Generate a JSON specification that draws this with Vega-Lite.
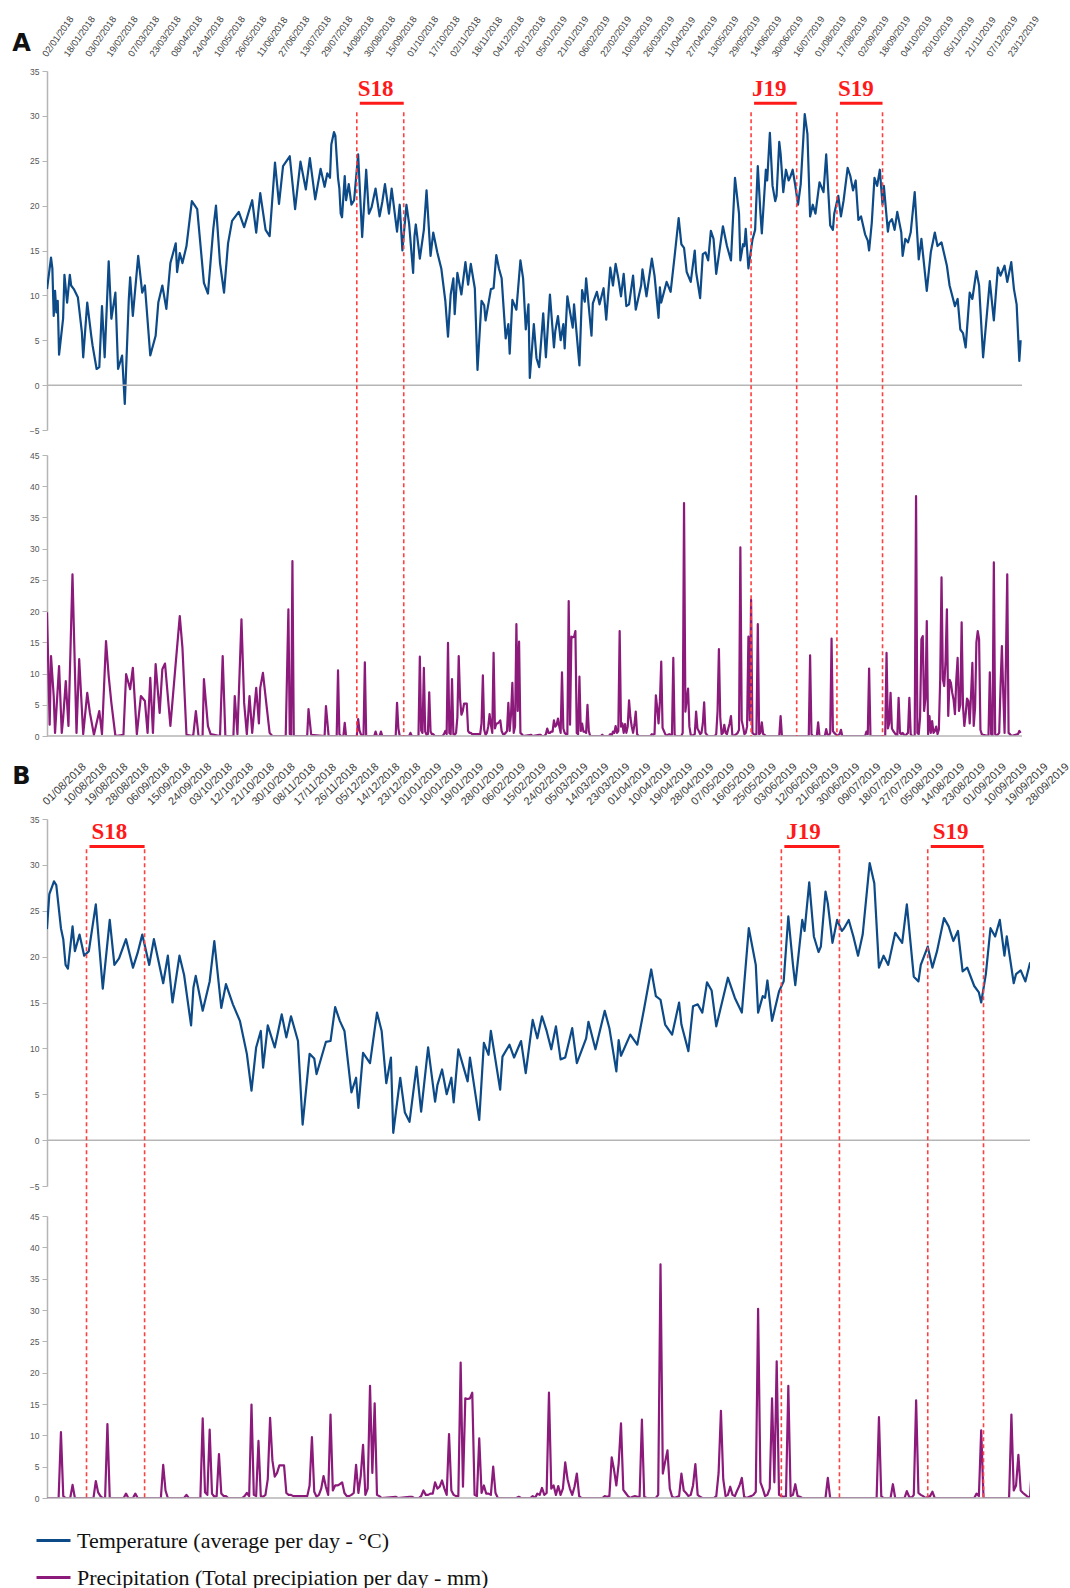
{
  "$schema": "https://vega.github.io/schema/vega-lite/v6.json",
  "background": "white",
  "padding": {"left": 12, "top": 14, "right": 0, "bottom": 0},
  "spacing": 19,
  "config": {
    "view": {"stroke": null},
    "font": "Liberation Sans",
    "axis": {"labelFont": "Liberation Sans"}
  },
  "datasets": {
    "ticks": [
      {"panel":"A","date":"2018-01-02","lab":"02/01/2018"},{"panel":"A","date":"2018-01-18","lab":"18/01/2018"},{"panel":"A","date":"2018-02-03","lab":"03/02/2018"},{"panel":"A","date":"2018-02-19","lab":"19/02/2018"},{"panel":"A","date":"2018-03-07","lab":"07/03/2018"},{"panel":"A","date":"2018-03-23","lab":"23/03/2018"},{"panel":"A","date":"2018-04-08","lab":"08/04/2018"},{"panel":"A","date":"2018-04-24","lab":"24/04/2018"},{"panel":"A","date":"2018-05-10","lab":"10/05/2018"},{"panel":"A","date":"2018-05-26","lab":"26/05/2018"},{"panel":"A","date":"2018-06-11","lab":"11/06/2018"},{"panel":"A","date":"2018-06-27","lab":"27/06/2018"},{"panel":"A","date":"2018-07-13","lab":"13/07/2018"},{"panel":"A","date":"2018-07-29","lab":"29/07/2018"},{"panel":"A","date":"2018-08-14","lab":"14/08/2018"},{"panel":"A","date":"2018-08-30","lab":"30/08/2018"},{"panel":"A","date":"2018-09-15","lab":"15/09/2018"},{"panel":"A","date":"2018-10-01","lab":"01/10/2018"},{"panel":"A","date":"2018-10-17","lab":"17/10/2018"},{"panel":"A","date":"2018-11-02","lab":"02/11/2018"},{"panel":"A","date":"2018-11-18","lab":"18/11/2018"},{"panel":"A","date":"2018-12-04","lab":"04/12/2018"},{"panel":"A","date":"2018-12-20","lab":"20/12/2018"},{"panel":"A","date":"2019-01-05","lab":"05/01/2019"},{"panel":"A","date":"2019-01-21","lab":"21/01/2019"},{"panel":"A","date":"2019-02-06","lab":"06/02/2019"},{"panel":"A","date":"2019-02-22","lab":"22/02/2019"},{"panel":"A","date":"2019-03-10","lab":"10/03/2019"},{"panel":"A","date":"2019-03-26","lab":"26/03/2019"},{"panel":"A","date":"2019-04-11","lab":"11/04/2019"},{"panel":"A","date":"2019-04-27","lab":"27/04/2019"},{"panel":"A","date":"2019-05-13","lab":"13/05/2019"},{"panel":"A","date":"2019-05-29","lab":"29/05/2019"},{"panel":"A","date":"2019-06-14","lab":"14/06/2019"},{"panel":"A","date":"2019-06-30","lab":"30/06/2019"},{"panel":"A","date":"2019-07-16","lab":"16/07/2019"},{"panel":"A","date":"2019-08-01","lab":"01/08/2019"},{"panel":"A","date":"2019-08-17","lab":"17/08/2019"},{"panel":"A","date":"2019-09-02","lab":"02/09/2019"},{"panel":"A","date":"2019-09-18","lab":"18/09/2019"},{"panel":"A","date":"2019-10-04","lab":"04/10/2019"},{"panel":"A","date":"2019-10-20","lab":"20/10/2019"},{"panel":"A","date":"2019-11-05","lab":"05/11/2019"},{"panel":"A","date":"2019-11-21","lab":"21/11/2019"},{"panel":"A","date":"2019-12-07","lab":"07/12/2019"},{"panel":"A","date":"2019-12-23","lab":"23/12/2019"},
      {"panel":"B","date":"2018-08-01","lab":"01/08/2018"},{"panel":"B","date":"2018-08-10","lab":"10/08/2018"},{"panel":"B","date":"2018-08-19","lab":"19/08/2018"},{"panel":"B","date":"2018-08-28","lab":"28/08/2018"},{"panel":"B","date":"2018-09-06","lab":"06/09/2018"},{"panel":"B","date":"2018-09-15","lab":"15/09/2018"},{"panel":"B","date":"2018-09-24","lab":"24/09/2018"},{"panel":"B","date":"2018-10-03","lab":"03/10/2018"},{"panel":"B","date":"2018-10-12","lab":"12/10/2018"},{"panel":"B","date":"2018-10-21","lab":"21/10/2018"},{"panel":"B","date":"2018-10-30","lab":"30/10/2018"},{"panel":"B","date":"2018-11-08","lab":"08/11/2018"},{"panel":"B","date":"2018-11-17","lab":"17/11/2018"},{"panel":"B","date":"2018-11-26","lab":"26/11/2018"},{"panel":"B","date":"2018-12-05","lab":"05/12/2018"},{"panel":"B","date":"2018-12-14","lab":"14/12/2018"},{"panel":"B","date":"2018-12-23","lab":"23/12/2018"},{"panel":"B","date":"2019-01-01","lab":"01/01/2019"},{"panel":"B","date":"2019-01-10","lab":"10/01/2019"},{"panel":"B","date":"2019-01-19","lab":"19/01/2019"},{"panel":"B","date":"2019-01-28","lab":"28/01/2019"},{"panel":"B","date":"2019-02-06","lab":"06/02/2019"},{"panel":"B","date":"2019-02-15","lab":"15/02/2019"},{"panel":"B","date":"2019-02-24","lab":"24/02/2019"},{"panel":"B","date":"2019-03-05","lab":"05/03/2019"},{"panel":"B","date":"2019-03-14","lab":"14/03/2019"},{"panel":"B","date":"2019-03-23","lab":"23/03/2019"},{"panel":"B","date":"2019-04-01","lab":"01/04/2019"},{"panel":"B","date":"2019-04-10","lab":"10/04/2019"},{"panel":"B","date":"2019-04-19","lab":"19/04/2019"},{"panel":"B","date":"2019-04-28","lab":"28/04/2019"},{"panel":"B","date":"2019-05-07","lab":"07/05/2019"},{"panel":"B","date":"2019-05-16","lab":"16/05/2019"},{"panel":"B","date":"2019-05-25","lab":"25/05/2019"},{"panel":"B","date":"2019-06-03","lab":"03/06/2019"},{"panel":"B","date":"2019-06-12","lab":"12/06/2019"},{"panel":"B","date":"2019-06-21","lab":"21/06/2019"},{"panel":"B","date":"2019-06-30","lab":"30/06/2019"},{"panel":"B","date":"2019-07-09","lab":"09/07/2019"},{"panel":"B","date":"2019-07-18","lab":"18/07/2019"},{"panel":"B","date":"2019-07-27","lab":"27/07/2019"},{"panel":"B","date":"2019-08-05","lab":"05/08/2019"},{"panel":"B","date":"2019-08-14","lab":"14/08/2019"},{"panel":"B","date":"2019-08-23","lab":"23/08/2019"},{"panel":"B","date":"2019-09-01","lab":"01/09/2019"},{"panel":"B","date":"2019-09-10","lab":"10/09/2019"},{"panel":"B","date":"2019-09-19","lab":"19/09/2019"},{"panel":"B","date":"2019-09-28","lab":"28/09/2019"}
    ],
    "temp": [
      {"date":"2018-01-02","t":10.7},{"date":"2018-01-05","t":14.2},{"date":"2018-01-06","t":13.0},{"date":"2018-01-07","t":7.7},{"date":"2018-01-08","t":10.5},{"date":"2018-01-09","t":8.1},{"date":"2018-01-10","t":9.4},{"date":"2018-01-11","t":3.4},{"date":"2018-01-14","t":7.4},{"date":"2018-01-15","t":12.3},{"date":"2018-01-17","t":9.2},{"date":"2018-01-19","t":12.3},{"date":"2018-01-20","t":11.1},{"date":"2018-01-22","t":10.7},{"date":"2018-01-25","t":9.8},{"date":"2018-01-28","t":5.9},{"date":"2018-01-29","t":3.1},{"date":"2018-02-01","t":9.2},{"date":"2018-02-04","t":5.5},{"date":"2018-02-05","t":4.4},{"date":"2018-02-08","t":1.8},{"date":"2018-02-10","t":2.0},{"date":"2018-02-12","t":8.8},{"date":"2018-02-14","t":3.1},{"date":"2018-02-17","t":13.8},{"date":"2018-02-19","t":7.4},{"date":"2018-02-22","t":10.3},{"date":"2018-02-24","t":1.8},{"date":"2018-02-27","t":3.3},{"date":"2018-03-01","t":-2.1},{"date":"2018-03-04","t":9.6},{"date":"2018-03-05","t":12.0},{"date":"2018-03-07","t":7.7},{"date":"2018-03-11","t":14.4},{"date":"2018-03-14","t":10.3},{"date":"2018-03-16","t":11.1},{"date":"2018-03-20","t":3.3},{"date":"2018-03-24","t":5.5},{"date":"2018-03-26","t":9.2},{"date":"2018-03-29","t":11.1},{"date":"2018-04-01","t":8.5},{"date":"2018-04-04","t":13.6},{"date":"2018-04-08","t":15.8},{"date":"2018-04-09","t":12.6},{"date":"2018-04-11","t":14.7},{"date":"2018-04-13","t":13.6},{"date":"2018-04-16","t":15.5},{"date":"2018-04-20","t":20.5},{"date":"2018-04-24","t":19.6},{"date":"2018-04-29","t":11.4},{"date":"2018-05-02","t":10.2},{"date":"2018-05-06","t":17.4},{"date":"2018-05-08","t":20.0},{"date":"2018-05-11","t":13.6},{"date":"2018-05-14","t":10.3},{"date":"2018-05-17","t":15.8},{"date":"2018-05-20","t":18.3},{"date":"2018-05-25","t":19.3},{"date":"2018-05-29","t":17.6},{"date":"2018-06-04","t":20.6},{"date":"2018-06-07","t":17.0},{"date":"2018-06-10","t":21.4},{"date":"2018-06-14","t":17.3},{"date":"2018-06-17","t":16.6},{"date":"2018-06-21","t":24.8},{"date":"2018-06-24","t":20.2},{"date":"2018-06-27","t":24.4},{"date":"2018-07-02","t":25.5},{"date":"2018-07-06","t":19.6},{"date":"2018-07-10","t":24.9},{"date":"2018-07-14","t":21.8},{"date":"2018-07-17","t":25.3},{"date":"2018-07-21","t":20.7},{"date":"2018-07-25","t":24.1},{"date":"2018-07-28","t":22.1},{"date":"2018-07-30","t":23.6},
      {"date":"2018-08-01","t":23.1},{"date":"2018-08-02","t":26.8},{"date":"2018-08-03","t":27.5},{"date":"2018-08-04","t":28.2},{"date":"2018-08-05","t":27.8},{"date":"2018-08-07","t":23.1},{"date":"2018-08-08","t":21.9},{"date":"2018-08-09","t":19.1},{"date":"2018-08-10","t":18.7},{"date":"2018-08-12","t":23.3},{"date":"2018-08-13","t":20.6},{"date":"2018-08-15","t":22.4},{"date":"2018-08-17","t":20.1},{"date":"2018-08-19","t":20.6},{"date":"2018-08-22","t":25.7},{"date":"2018-08-25","t":16.5},{"date":"2018-08-28","t":24.0},{"date":"2018-08-30","t":19.1},{"date":"2018-09-01","t":19.8},{"date":"2018-09-04","t":21.9},{"date":"2018-09-07","t":18.8},{"date":"2018-09-09","t":20.4},{"date":"2018-09-11","t":22.4},{"date":"2018-09-14","t":19.1},{"date":"2018-09-16","t":21.9},{"date":"2018-09-20","t":17.1},{"date":"2018-09-22","t":20.1},{"date":"2018-09-24","t":15.0},{"date":"2018-09-27","t":20.1},{"date":"2018-09-29","t":18.0},{"date":"2018-10-02","t":12.5},{"date":"2018-10-03","t":16.6},{"date":"2018-10-04","t":17.9},{"date":"2018-10-07","t":14.1},{"date":"2018-10-10","t":17.3},{"date":"2018-10-12","t":21.7},{"date":"2018-10-15","t":14.4},{"date":"2018-10-17","t":17.0},{"date":"2018-10-20","t":14.8},{"date":"2018-10-23","t":13.0},{"date":"2018-10-26","t":9.4},{"date":"2018-10-28","t":5.4},{"date":"2018-10-30","t":10.1},{"date":"2018-11-01","t":11.9},{"date":"2018-11-02","t":7.9},{"date":"2018-11-04","t":12.5},{"date":"2018-11-07","t":10.1},{"date":"2018-11-10","t":13.7},{"date":"2018-11-12","t":11.2},{"date":"2018-11-14","t":13.5},{"date":"2018-11-17","t":10.8},{"date":"2018-11-19","t":1.7},{"date":"2018-11-22","t":9.4},{"date":"2018-11-24","t":8.9},{"date":"2018-11-25","t":7.2},{"date":"2018-11-29","t":10.7},{"date":"2018-12-01","t":10.8},{"date":"2018-12-03","t":14.5},{"date":"2018-12-05","t":13.0},{"date":"2018-12-07","t":11.9},{"date":"2018-12-10","t":5.2},{"date":"2018-12-12","t":6.8},{"date":"2018-12-13","t":3.5},{"date":"2018-12-15","t":9.5},{"date":"2018-12-18","t":8.4},{"date":"2018-12-21","t":13.9},{"date":"2018-12-23","t":11.9},{"date":"2018-12-25","t":6.2},{"date":"2018-12-27","t":9.0},{"date":"2018-12-28","t":0.8},{"date":"2018-12-31","t":6.8},
      {"date":"2019-01-02","t":3.0},{"date":"2019-01-04","t":2.0},{"date":"2019-01-07","t":8.0},{"date":"2019-01-09","t":3.1},{"date":"2019-01-12","t":10.1},{"date":"2019-01-15","t":4.2},{"date":"2019-01-16","t":6.0},{"date":"2019-01-18","t":7.7},{"date":"2019-01-20","t":5.0},{"date":"2019-01-22","t":6.8},{"date":"2019-01-23","t":4.1},{"date":"2019-01-25","t":9.9},{"date":"2019-01-29","t":6.4},{"date":"2019-01-30","t":9.0},{"date":"2019-02-03","t":2.2},{"date":"2019-02-05","t":10.6},{"date":"2019-02-07","t":9.3},{"date":"2019-02-08","t":11.9},{"date":"2019-02-12","t":5.5},{"date":"2019-02-13","t":9.1},{"date":"2019-02-16","t":10.4},{"date":"2019-02-18","t":9.0},{"date":"2019-02-21","t":10.8},{"date":"2019-02-23","t":7.3},{"date":"2019-02-26","t":13.1},{"date":"2019-02-28","t":11.1},{"date":"2019-03-02","t":13.5},{"date":"2019-03-04","t":11.9},{"date":"2019-03-06","t":9.9},{"date":"2019-03-08","t":12.4},{"date":"2019-03-10","t":8.8},{"date":"2019-03-12","t":9.0},{"date":"2019-03-15","t":12.2},{"date":"2019-03-17","t":8.4},{"date":"2019-03-21","t":11.1},{"date":"2019-03-22","t":12.9},{"date":"2019-03-25","t":9.9},{"date":"2019-03-29","t":14.1},{"date":"2019-03-31","t":12.2},{"date":"2019-04-03","t":7.5},{"date":"2019-04-04","t":10.9},{"date":"2019-04-05","t":9.2},{"date":"2019-04-09","t":11.5},{"date":"2019-04-12","t":10.4},{"date":"2019-04-15","t":14.4},{"date":"2019-04-18","t":18.6},{"date":"2019-04-20","t":15.7},{"date":"2019-04-22","t":15.3},{"date":"2019-04-24","t":12.6},{"date":"2019-04-27","t":11.5},{"date":"2019-04-30","t":15.0},{"date":"2019-05-01","t":12.6},{"date":"2019-05-04","t":9.7},{"date":"2019-05-06","t":14.6},{"date":"2019-05-08","t":14.8},{"date":"2019-05-10","t":13.9},{"date":"2019-05-12","t":17.2},{"date":"2019-05-14","t":16.3},{"date":"2019-05-16","t":12.4},{"date":"2019-05-21","t":17.7},{"date":"2019-05-24","t":15.5},{"date":"2019-05-27","t":13.9},{"date":"2019-05-30","t":23.1},{"date":"2019-06-02","t":19.1},{"date":"2019-06-03","t":13.9},{"date":"2019-06-05","t":15.7},{"date":"2019-06-06","t":15.5},{"date":"2019-06-07","t":17.4},{"date":"2019-06-09","t":13.0},{"date":"2019-06-12","t":16.2},{"date":"2019-06-14","t":17.3},{"date":"2019-06-16","t":24.4},{"date":"2019-06-18","t":19.1},{"date":"2019-06-19","t":16.9},{"date":"2019-06-22","t":24.0},{"date":"2019-06-23","t":22.8},{"date":"2019-06-25","t":28.1},{"date":"2019-06-27","t":22.2},{"date":"2019-06-29","t":20.5},{"date":"2019-06-30","t":21.1},{"date":"2019-07-02","t":27.1},{"date":"2019-07-03","t":25.8},{"date":"2019-07-05","t":21.5},{"date":"2019-07-07","t":24.0},{"date":"2019-07-09","t":22.8},{"date":"2019-07-10","t":23.1},{"date":"2019-07-12","t":24.0},{"date":"2019-07-14","t":22.2},{"date":"2019-07-16","t":20.1},{"date":"2019-07-18","t":22.4},{"date":"2019-07-21","t":30.2},{"date":"2019-07-23","t":28.0},{"date":"2019-07-25","t":18.8},{"date":"2019-07-27","t":20.1},{"date":"2019-07-29","t":19.1},{"date":"2019-08-01","t":22.6},{"date":"2019-08-04","t":21.5},{"date":"2019-08-06","t":25.7},{"date":"2019-08-09","t":17.8},{"date":"2019-08-11","t":17.3},{"date":"2019-08-12","t":19.1},{"date":"2019-08-15","t":21.1},{"date":"2019-08-17","t":18.8},{"date":"2019-08-19","t":20.6},{"date":"2019-08-22","t":24.2},{"date":"2019-08-24","t":23.3},{"date":"2019-08-26","t":21.7},{"date":"2019-08-28","t":22.8},{"date":"2019-08-30","t":18.4},{"date":"2019-09-01","t":18.8},{"date":"2019-09-04","t":16.8},{"date":"2019-09-06","t":16.1},{"date":"2019-09-07","t":15.0},{"date":"2019-09-09","t":18.1},{"date":"2019-09-11","t":23.1},{"date":"2019-09-13","t":22.2},{"date":"2019-09-15","t":24.0},{"date":"2019-09-17","t":20.1},{"date":"2019-09-18","t":22.2},{"date":"2019-09-21","t":17.1},{"date":"2019-09-22","t":18.1},{"date":"2019-09-24","t":18.5},{"date":"2019-09-26","t":17.3},{"date":"2019-09-28","t":19.3},
      {"date":"2019-10-01","t":17.0},{"date":"2019-10-02","t":14.4},{"date":"2019-10-04","t":16.3},{"date":"2019-10-06","t":15.9},{"date":"2019-10-08","t":17.0},{"date":"2019-10-11","t":21.5},{"date":"2019-10-14","t":14.0},{"date":"2019-10-16","t":16.3},{"date":"2019-10-20","t":10.5},{"date":"2019-10-23","t":14.8},{"date":"2019-10-26","t":17.0},{"date":"2019-10-28","t":15.5},{"date":"2019-10-31","t":15.9},{"date":"2019-11-04","t":13.3},{"date":"2019-11-06","t":11.1},{"date":"2019-11-10","t":8.8},{"date":"2019-11-12","t":9.6},{"date":"2019-11-14","t":6.2},{"date":"2019-11-16","t":5.8},{"date":"2019-11-18","t":4.2},{"date":"2019-11-21","t":10.3},{"date":"2019-11-23","t":9.6},{"date":"2019-11-26","t":12.7},{"date":"2019-11-28","t":11.1},{"date":"2019-12-01","t":3.1},{"date":"2019-12-06","t":11.6},{"date":"2019-12-09","t":7.2},{"date":"2019-12-12","t":13.1},{"date":"2019-12-14","t":12.2},{"date":"2019-12-17","t":13.3},{"date":"2019-12-19","t":11.5},{"date":"2019-12-22","t":13.7},{"date":"2019-12-24","t":10.7},{"date":"2019-12-26","t":9.0},{"date":"2019-12-28","t":2.7},{"date":"2019-12-29","t":5.0}
    ],
    "precip": [
      {"date":"2018-01-02","p":19.8},{"date":"2018-01-04","p":1.8},{"date":"2018-01-05","p":12.8},{"date":"2018-01-07","p":6.4},{"date":"2018-01-08","p":0.5},{"date":"2018-01-11","p":11.2},{"date":"2018-01-13","p":0.5},{"date":"2018-01-14","p":2.7},{"date":"2018-01-16","p":8.8},{"date":"2018-01-18","p":1.6},{"date":"2018-01-21","p":25.9},{"date":"2018-01-24","p":0.5},{"date":"2018-01-26","p":12.3},{"date":"2018-01-29","p":0.3},{"date":"2018-02-01","p":6.9},{"date":"2018-02-03","p":3.7},{"date":"2018-02-06","p":0.2},{"date":"2018-02-10","p":4.0},{"date":"2018-02-12","p":0.3},{"date":"2018-02-15","p":15.2},{"date":"2018-02-17","p":9.6},{"date":"2018-02-19","p":5.3},{"date":"2018-02-22","p":0},{"date":"2018-02-28","p":0.2},{"date":"2018-03-02","p":9.9},{"date":"2018-03-05","p":7.5},{"date":"2018-03-07","p":10.9},{"date":"2018-03-10","p":0.3},{"date":"2018-03-13","p":6.4},{"date":"2018-03-16","p":5.6},{"date":"2018-03-18","p":0.5},{"date":"2018-03-20","p":9.3},{"date":"2018-03-22","p":0.5},{"date":"2018-03-24","p":11.5},{"date":"2018-03-27","p":3.7},{"date":"2018-03-29","p":10.7},{"date":"2018-03-31","p":11.6},{"date":"2018-04-04","p":1.6},{"date":"2018-04-08","p":11.7},{"date":"2018-04-11","p":19.2},{"date":"2018-04-13","p":14.1},{"date":"2018-04-16","p":0.2},{"date":"2018-04-21","p":0},{"date":"2018-04-23","p":4.0},{"date":"2018-04-25","p":0},{"date":"2018-04-28","p":0},{"date":"2018-04-29","p":9.1},{"date":"2018-05-02","p":1.6},{"date":"2018-05-04","p":0.3},{"date":"2018-05-11","p":0},{"date":"2018-05-13","p":12.8},{"date":"2018-05-15","p":0},{"date":"2018-05-21","p":0},{"date":"2018-05-22","p":6.4},{"date":"2018-05-24","p":0.3},{"date":"2018-05-27","p":18.7},{"date":"2018-05-29","p":5.3},{"date":"2018-05-31","p":0.3},{"date":"2018-06-02","p":6.4},{"date":"2018-06-04","p":0.5},{"date":"2018-06-07","p":7.7},{"date":"2018-06-09","p":2.0},{"date":"2018-06-10","p":7.7},{"date":"2018-06-12","p":10.1},{"date":"2018-06-15","p":4.3},{"date":"2018-06-17","p":0.5},{"date":"2018-06-19","p":0},{"date":"2018-06-29","p":0},{"date":"2018-07-01","p":20.3},{"date":"2018-07-02","p":0.3},{"date":"2018-07-03","p":0.2},{"date":"2018-07-04","p":28.0},{"date":"2018-07-05","p":0},{"date":"2018-07-15","p":0},{"date":"2018-07-16","p":4.3},{"date":"2018-07-18","p":0.2},{"date":"2018-07-28","p":0},{"date":"2018-07-29","p":4.8},{"date":"2018-07-31","p":0},
      {"date":"2018-08-01","p":0},{"date":"2018-08-06","p":0},{"date":"2018-08-07","p":10.5},{"date":"2018-08-08","p":0.3},{"date":"2018-08-09","p":0},{"date":"2018-08-11","p":0},{"date":"2018-08-12","p":2.1},{"date":"2018-08-13","p":0},{"date":"2018-08-21","p":0},{"date":"2018-08-22","p":2.7},{"date":"2018-08-23","p":0.9},{"date":"2018-08-24","p":0.3},{"date":"2018-08-25","p":0},{"date":"2018-08-26","p":0},{"date":"2018-08-27","p":11.8},{"date":"2018-08-28","p":0},{"date":"2018-09-03","p":0},{"date":"2018-09-04","p":0.7},{"date":"2018-09-05","p":0},{"date":"2018-09-07","p":0},{"date":"2018-09-08","p":0.7},{"date":"2018-09-09","p":0},{"date":"2018-09-19","p":0},{"date":"2018-09-20","p":5.3},{"date":"2018-09-21","p":1.2},{"date":"2018-09-22","p":0},{"date":"2018-09-29","p":0},{"date":"2018-09-30","p":0.5},{"date":"2018-10-01","p":0},{"date":"2018-10-06","p":0},{"date":"2018-10-07","p":12.7},{"date":"2018-10-08","p":0.9},{"date":"2018-10-09","p":0.5},{"date":"2018-10-10","p":10.9},{"date":"2018-10-11","p":0.7},{"date":"2018-10-12","p":0.2},{"date":"2018-10-13","p":0.3},{"date":"2018-10-14","p":7.0},{"date":"2018-10-15","p":0.7},{"date":"2018-10-16","p":0.3},{"date":"2018-10-17","p":0.3},{"date":"2018-10-18","p":0},{"date":"2018-10-24","p":0},{"date":"2018-10-25","p":0.3},{"date":"2018-10-26","p":0.8},{"date":"2018-10-27","p":0.3},{"date":"2018-10-28","p":14.9},{"date":"2018-10-29","p":0.5},{"date":"2018-10-30","p":0.3},{"date":"2018-10-31","p":9.1},{"date":"2018-11-01","p":0.3},{"date":"2018-11-02","p":0.2},{"date":"2018-11-03","p":0.5},{"date":"2018-11-04","p":3.0},{"date":"2018-11-05","p":12.8},{"date":"2018-11-06","p":6.0},{"date":"2018-11-07","p":3.4},{"date":"2018-11-08","p":4.0},{"date":"2018-11-09","p":5.2},{"date":"2018-11-10","p":5.2},{"date":"2018-11-11","p":5.2},{"date":"2018-11-12","p":0.8},{"date":"2018-11-13","p":0.5},{"date":"2018-11-14","p":0.5},{"date":"2018-11-15","p":0.3},{"date":"2018-11-20","p":0.3},{"date":"2018-11-21","p":0.3},{"date":"2018-11-22","p":2.0},{"date":"2018-11-23","p":9.7},{"date":"2018-11-24","p":1.0},{"date":"2018-11-25","p":0.2},{"date":"2018-11-26","p":0.5},{"date":"2018-11-27","p":1.5},{"date":"2018-11-28","p":3.5},{"date":"2018-11-29","p":1.8},{"date":"2018-11-30","p":0.5},{"date":"2018-12-01","p":13.3},{"date":"2018-12-02","p":1.2},{"date":"2018-12-03","p":2.0},{"date":"2018-12-04","p":2.0},{"date":"2018-12-05","p":2.2},{"date":"2018-12-06","p":2.5},{"date":"2018-12-07","p":0.8},{"date":"2018-12-08","p":0.3},{"date":"2018-12-09","p":0.3},{"date":"2018-12-10","p":0.5},{"date":"2018-12-11","p":0.8},{"date":"2018-12-12","p":5.3},{"date":"2018-12-13","p":0.8},{"date":"2018-12-14","p":3.5},{"date":"2018-12-15","p":8.5},{"date":"2018-12-16","p":0.5},{"date":"2018-12-17","p":1.5},{"date":"2018-12-18","p":17.9},{"date":"2018-12-19","p":4.0},{"date":"2018-12-20","p":15.1},{"date":"2018-12-21","p":0.5},{"date":"2018-12-22","p":0.3},{"date":"2018-12-23","p":0},{"date":"2018-12-29","p":0.2},{"date":"2018-12-30","p":0},
      {"date":"2019-01-04","p":0.2},{"date":"2019-01-05","p":0.2},{"date":"2019-01-06","p":0},{"date":"2019-01-08","p":0},{"date":"2019-01-09","p":0.3},{"date":"2019-01-10","p":1.2},{"date":"2019-01-11","p":0.5},{"date":"2019-01-12","p":0.5},{"date":"2019-01-13","p":0.7},{"date":"2019-01-14","p":0.7},{"date":"2019-01-15","p":2.5},{"date":"2019-01-16","p":1.5},{"date":"2019-01-17","p":1.8},{"date":"2019-01-18","p":2.8},{"date":"2019-01-19","p":1.5},{"date":"2019-01-20","p":0.5},{"date":"2019-01-21","p":10.2},{"date":"2019-01-22","p":1.2},{"date":"2019-01-23","p":0.5},{"date":"2019-01-24","p":0.3},{"date":"2019-01-25","p":0.3},{"date":"2019-01-26","p":21.6},{"date":"2019-01-27","p":1.8},{"date":"2019-01-28","p":15.9},{"date":"2019-01-29","p":15.8},{"date":"2019-01-30","p":15.9},{"date":"2019-01-31","p":16.8},{"date":"2019-02-01","p":0.5},{"date":"2019-02-02","p":0.3},{"date":"2019-02-03","p":9.5},{"date":"2019-02-04","p":0.8},{"date":"2019-02-05","p":2.0},{"date":"2019-02-06","p":0.7},{"date":"2019-02-07","p":0.7},{"date":"2019-02-08","p":0.5},{"date":"2019-02-09","p":5.0},{"date":"2019-02-10","p":0.8},{"date":"2019-02-11","p":0},{"date":"2019-02-19","p":0},{"date":"2019-02-20","p":0.2},{"date":"2019-02-21","p":0},{"date":"2019-02-25","p":0},{"date":"2019-02-26","p":0.3},{"date":"2019-02-27","p":0},{"date":"2019-02-28","p":0.7},{"date":"2019-03-01","p":0.5},{"date":"2019-03-02","p":1.6},{"date":"2019-03-03","p":0.5},{"date":"2019-03-04","p":0.8},{"date":"2019-03-05","p":16.8},{"date":"2019-03-06","p":1.5},{"date":"2019-03-07","p":2.0},{"date":"2019-03-08","p":0.5},{"date":"2019-03-09","p":1.9},{"date":"2019-03-10","p":0.5},{"date":"2019-03-11","p":1.5},{"date":"2019-03-12","p":5.7},{"date":"2019-03-13","p":3.0},{"date":"2019-03-14","p":1.5},{"date":"2019-03-15","p":0.5},{"date":"2019-03-16","p":1.8},{"date":"2019-03-17","p":3.9},{"date":"2019-03-18","p":0.3},{"date":"2019-03-19","p":0},{"date":"2019-03-28","p":0},{"date":"2019-03-29","p":0.3},{"date":"2019-03-30","p":0.2},{"date":"2019-03-31","p":0.3},{"date":"2019-04-01","p":6.5},{"date":"2019-04-02","p":4.5},{"date":"2019-04-03","p":2.0},{"date":"2019-04-04","p":5.5},{"date":"2019-04-05","p":11.9},{"date":"2019-04-06","p":1.3},{"date":"2019-04-07","p":0.8},{"date":"2019-04-08","p":0.3},{"date":"2019-04-09","p":0},{"date":"2019-04-10","p":0.2},{"date":"2019-04-11","p":0.3},{"date":"2019-04-12","p":0.2},{"date":"2019-04-13","p":0.2},{"date":"2019-04-14","p":12.5},{"date":"2019-04-15","p":0.2},{"date":"2019-04-16","p":0},{"date":"2019-04-20","p":0},{"date":"2019-04-21","p":0.5},{"date":"2019-04-22","p":37.3},{"date":"2019-04-23","p":3.9},{"date":"2019-04-24","p":5.8},{"date":"2019-04-25","p":7.6},{"date":"2019-04-26","p":1.5},{"date":"2019-04-27","p":0.2},{"date":"2019-04-28","p":0},{"date":"2019-04-30","p":0.3},{"date":"2019-05-01","p":3.9},{"date":"2019-05-02","p":1.2},{"date":"2019-05-03","p":0.8},{"date":"2019-05-04","p":0.3},{"date":"2019-05-05","p":0.5},{"date":"2019-05-06","p":2.0},{"date":"2019-05-07","p":5.4},{"date":"2019-05-08","p":0.5},{"date":"2019-05-09","p":0.2},{"date":"2019-05-10","p":0},{"date":"2019-05-15","p":0},{"date":"2019-05-16","p":0.3},{"date":"2019-05-17","p":4.0},{"date":"2019-05-18","p":13.9},{"date":"2019-05-19","p":3.0},{"date":"2019-05-20","p":0.3},{"date":"2019-05-21","p":0.5},{"date":"2019-05-22","p":1.8},{"date":"2019-05-23","p":0.5},{"date":"2019-05-24","p":0.3},{"date":"2019-05-25","p":1.2},{"date":"2019-05-26","p":2.0},{"date":"2019-05-27","p":3.2},{"date":"2019-05-28","p":0.2},{"date":"2019-05-29","p":0},{"date":"2019-05-31","p":0.3},{"date":"2019-06-01","p":0.5},{"date":"2019-06-02","p":1.0},{"date":"2019-06-03","p":30.2},{"date":"2019-06-04","p":2.5},{"date":"2019-06-05","p":1.5},{"date":"2019-06-06","p":0.3},{"date":"2019-06-07","p":0.5},{"date":"2019-06-08","p":1.5},{"date":"2019-06-09","p":15.9},{"date":"2019-06-10","p":2.5},{"date":"2019-06-11","p":21.8},{"date":"2019-06-12","p":0.5},{"date":"2019-06-13","p":0.3},{"date":"2019-06-14","p":0.2},{"date":"2019-06-15","p":0.3},{"date":"2019-06-16","p":17.9},{"date":"2019-06-17","p":0.3},{"date":"2019-06-18","p":0.5},{"date":"2019-06-19","p":2.2},{"date":"2019-06-20","p":0.3},{"date":"2019-06-21","p":0.2},{"date":"2019-06-22","p":0},{"date":"2019-07-02","p":0},{"date":"2019-07-03","p":3.2},{"date":"2019-07-04","p":0},{"date":"2019-07-24","p":0},{"date":"2019-07-25","p":12.9},{"date":"2019-07-26","p":0.3},{"date":"2019-07-27","p":0},{"date":"2019-07-30","p":0},{"date":"2019-07-31","p":2.2},{"date":"2019-08-01","p":0},{"date":"2019-08-05","p":0},{"date":"2019-08-06","p":1.1},{"date":"2019-08-07","p":0.2},{"date":"2019-08-08","p":0},{"date":"2019-08-09","p":0.5},{"date":"2019-08-10","p":15.6},{"date":"2019-08-11","p":0.8},{"date":"2019-08-12","p":0.5},{"date":"2019-08-13","p":0.3},{"date":"2019-08-14","p":0},{"date":"2019-08-16","p":0.3},{"date":"2019-08-17","p":1.0},{"date":"2019-08-18","p":0},{"date":"2019-09-04","p":0},{"date":"2019-09-05","p":0.7},{"date":"2019-09-06","p":0.3},{"date":"2019-09-07","p":10.8},{"date":"2019-09-08","p":0},{"date":"2019-09-19","p":0},{"date":"2019-09-20","p":13.3},{"date":"2019-09-21","p":1.2},{"date":"2019-09-22","p":2.0},{"date":"2019-09-23","p":6.9},{"date":"2019-09-24","p":1.2},{"date":"2019-09-25","p":0.8},{"date":"2019-09-26","p":0.5},{"date":"2019-09-27","p":0.2},{"date":"2019-09-28","p":0},
      {"date":"2019-09-29","p":6.1},{"date":"2019-09-30","p":0.5},{"date":"2019-10-01","p":0.3},{"date":"2019-10-02","p":0.5},{"date":"2019-10-03","p":0.2},{"date":"2019-10-04","p":0},{"date":"2019-10-05","p":0.3},{"date":"2019-10-06","p":0.5},{"date":"2019-10-07","p":6.1},{"date":"2019-10-08","p":0.3},{"date":"2019-10-09","p":0},{"date":"2019-10-11","p":0},{"date":"2019-10-12","p":38.4},{"date":"2019-10-13","p":0.5},{"date":"2019-10-14","p":0.3},{"date":"2019-10-15","p":3.0},{"date":"2019-10-16","p":15.5},{"date":"2019-10-17","p":16.0},{"date":"2019-10-18","p":4.0},{"date":"2019-10-19","p":6.0},{"date":"2019-10-20","p":18.4},{"date":"2019-10-21","p":0.3},{"date":"2019-10-22","p":3.2},{"date":"2019-10-23","p":0.5},{"date":"2019-10-24","p":2.4},{"date":"2019-10-25","p":0.5},{"date":"2019-10-26","p":0.8},{"date":"2019-10-27","p":1.5},{"date":"2019-10-28","p":0.3},{"date":"2019-10-29","p":1.0},{"date":"2019-10-30","p":9.0},{"date":"2019-10-31","p":25.4},{"date":"2019-11-01","p":9.1},{"date":"2019-11-02","p":8.0},{"date":"2019-11-03","p":12.0},{"date":"2019-11-04","p":20.3},{"date":"2019-11-05","p":3.2},{"date":"2019-11-06","p":9.0},{"date":"2019-11-07","p":8.5},{"date":"2019-11-08","p":6.9},{"date":"2019-11-09","p":5.8},{"date":"2019-11-10","p":3.5},{"date":"2019-11-11","p":9.0},{"date":"2019-11-12","p":12.5},{"date":"2019-11-13","p":4.0},{"date":"2019-11-14","p":5.0},{"date":"2019-11-15","p":18.2},{"date":"2019-11-16","p":4.8},{"date":"2019-11-17","p":1.6},{"date":"2019-11-18","p":3.5},{"date":"2019-11-19","p":6.0},{"date":"2019-11-20","p":5.6},{"date":"2019-11-21","p":2.0},{"date":"2019-11-22","p":6.5},{"date":"2019-11-23","p":11.7},{"date":"2019-11-24","p":1.6},{"date":"2019-11-25","p":4.5},{"date":"2019-11-26","p":15.0},{"date":"2019-11-27","p":16.8},{"date":"2019-11-28","p":15.5},{"date":"2019-11-29","p":1.0},{"date":"2019-11-30","p":0.3},{"date":"2019-12-01","p":0.2},{"date":"2019-12-05","p":0},{"date":"2019-12-06","p":10.2},{"date":"2019-12-07","p":0.3},{"date":"2019-12-08","p":0},{"date":"2019-12-09","p":27.8},{"date":"2019-12-10","p":0.3},{"date":"2019-12-11","p":0},{"date":"2019-12-13","p":0.5},{"date":"2019-12-14","p":8.0},{"date":"2019-12-15","p":14.4},{"date":"2019-12-16","p":7.0},{"date":"2019-12-17","p":0.5},{"date":"2019-12-18","p":12.0},{"date":"2019-12-19","p":25.9},{"date":"2019-12-20","p":0.5},{"date":"2019-12-21","p":0.3},{"date":"2019-12-22","p":0},{"date":"2019-12-27","p":0.3},{"date":"2019-12-28","p":0.8},{"date":"2019-12-29","p":0.5}
    ],
    "periods": [
      {"panel":"A","label":"S18","start":"2018-08-21","end":"2018-09-25"},
      {"panel":"A","label":"J19","start":"2019-06-11","end":"2019-07-15"},
      {"panel":"A","label":"S19","start":"2019-08-14","end":"2019-09-17"},
      {"panel":"B","label":"S18","start":"2018-08-18","end":"2018-09-12"},
      {"panel":"B","label":"J19","start":"2019-06-13","end":"2019-07-08"},
      {"panel":"B","label":"S19","start":"2019-08-15","end":"2019-09-08"}
    ]
  },
  "vconcat": [
    {
      "width": 975,
      "height": 665,
      "layer": [
        {
          "data": {"name": "temp"},
          "mark": {"type": "line", "strokeWidth": 2.2, "strokeJoin": "round", "clip": true},
          "encoding": {
            "x": {"field": "date", "type": "temporal",
              "scale": {"type": "utc", "domain": [{"year":2018,"month":1,"date":2,"utc":true},{"year":2019,"month":12,"date":30,"utc":true}]},
              "axis": null},
            "y": {"field": "t", "type": "quantitative", "scale": {"domain": [-5, 35], "range": [359, 0], "nice": false, "zero": false},
              "axis": {"orient": "left", "values": [-5,0,5,10,15,20,25,30,35], "title": null, "grid": false, "domainColor": "#b5b5b5", "domainWidth": 1.5, "tickColor": "#b5b5b5", "tickSize": 5, "labelFontSize": 8.5, "labelColor": "#555", "labelPadding": 3, "labelFlush": false}},
            "color": {"datum": "Temperature (average per day - °C)", "type": "nominal",
              "scale": {"domain": ["Temperature (average per day - °C)", "Precipitation (Total precipiation per day - mm)"], "range": ["#0d4a88", "#8b1a7b"]},
              "legend": {"orient": "none", "legendX": -12, "legendY": 1451, "title": null, "direction": "vertical", "symbolType": "stroke", "symbolStrokeWidth": 3, "symbolSize": 1156, "labelFont": "Liberation Serif", "labelFontSize": 22, "labelColor": "#111", "rowPadding": 7, "labelOffset": 5, "labelLimit": 900}}
          }
        },
        {
          "data": {"name": "ticks"},
          "transform": [{"filter": "datum.panel === 'A'"}],
          "mark": {"type": "text", "angle": -55, "align": "left", "baseline": "alphabetic", "font": "Liberation Sans", "fontSize": 9.4, "color": "#3c3c3c"},
          "encoding": {
            "x": {"field": "date", "type": "temporal"},
            "y": {"datum": 36.5, "type": "quantitative", "scale": {"domain": [-5, 35], "range": [359, 0], "nice": false, "zero": false}, "axis": null},
            "text": {"field": "lab"}
          }
        },
        {
          "data": {"values": [{}]},
          "mark": {"type": "rule", "color": "#b5b5b5", "strokeWidth": 1.5},
          "encoding": {"y": {"datum": 0, "type": "quantitative", "scale": {"domain": [-5, 35], "range": [359, 0], "nice": false, "zero": false}, "axis": null}}
        },
        {
          "data": {"name": "precip"},
          "mark": {"type": "line", "strokeWidth": 2.2, "strokeJoin": "round", "clip": true},
          "encoding": {
            "x": {"field": "date", "type": "temporal"},
            "y": {"field": "p", "type": "quantitative", "scale": {"domain": [0, 45], "range": [665, 384], "nice": false, "zero": false},
              "axis": {"orient": "left", "values": [0,5,10,15,20,25,30,35,40,45], "title": null, "grid": false, "domainColor": "#b5b5b5", "domainWidth": 1.5, "tickColor": "#b5b5b5", "tickSize": 5, "labelFontSize": 8.5, "labelColor": "#555", "labelPadding": 3, "labelFlush": false}},
            "color": {"datum": "Precipitation (Total precipiation per day - mm)", "type": "nominal"}
          }
        },
        {
          "data": {"values": [{}]},
          "mark": {"type": "rule", "color": "#b5b5b5", "strokeWidth": 1.5},
          "encoding": {"y": {"datum": 0, "type": "quantitative", "scale": {"domain": [0, 45], "range": [665, 384], "nice": false, "zero": false}, "axis": null}}
        },
        {
          "data": {"name": "periods"},
          "transform": [{"filter": "datum.panel === 'A'"}],
          "mark": {"type": "rule", "color": "#ff4040", "strokeWidth": 1.6, "strokeDash": [4, 3]},
          "encoding": {
            "x": {"field": "start", "type": "temporal"},
            "y": {"datum": 30.4, "type": "quantitative", "scale": {"domain": [-5, 35], "range": [359, 0], "nice": false, "zero": false}, "axis": null},
            "y2": {"datum": -39.1}
          }
        },
        {
          "data": {"name": "periods"},
          "transform": [{"filter": "datum.panel === 'A'"}],
          "mark": {"type": "rule", "color": "#ff4040", "strokeWidth": 1.6, "strokeDash": [4, 3]},
          "encoding": {
            "x": {"field": "end", "type": "temporal"},
            "y": {"datum": 30.4, "type": "quantitative", "scale": {"domain": [-5, 35], "range": [359, 0], "nice": false, "zero": false}, "axis": null},
            "y2": {"datum": -39.1}
          }
        },
        {
          "data": {"name": "periods"},
          "transform": [{"filter": "datum.panel === 'A'"}],
          "mark": {"type": "rule", "color": "#ff1a1a", "strokeWidth": 3},
          "encoding": {
            "x": {"field": "start", "type": "temporal"},
            "x2": {"field": "end"},
            "xOffset": {"value": 3},
            "x2Offset": {"value": -3},
            "y": {"datum": 31.4, "type": "quantitative", "scale": {"domain": [-5, 35], "range": [359, 0], "nice": false, "zero": false}, "axis": null}
          }
        },
        {
          "data": {"name": "periods"},
          "transform": [{"filter": "datum.panel === 'A'"}],
          "mark": {"type": "text", "font": "Liberation Serif", "fontWeight": "bold", "fontSize": 23, "color": "#ff1a1a", "align": "left", "baseline": "alphabetic", "dx": 1},
          "encoding": {
            "x": {"field": "start", "type": "temporal"},
            "y": {"datum": 32.2, "type": "quantitative", "scale": {"domain": [-5, 35], "range": [359, 0], "nice": false, "zero": false}, "axis": null},
            "text": {"field": "label"}
          }
        },
        {
          "data": {"values": [{}]},
          "mark": {"type": "text", "text": "A", "font": "DejaVu Sans", "fontWeight": "bold", "fontSize": 24, "color": "#111", "align": "left", "baseline": "alphabetic"},
          "encoding": {
            "x": {"datum": {"year":2017,"month":12,"date":7,"utc":true}, "type": "temporal"},
            "y": {"datum": 37.2, "type": "quantitative", "scale": {"domain": [-5, 35], "range": [359, 0], "nice": false, "zero": false}, "axis": null}
          }
        }
      ],
      "resolve": {"scale": {"y": "independent"}, "axis": {"y": "independent"}}
    },
    {
      "width": 983,
      "height": 679,
      "layer": [
        {
          "data": {"name": "temp"},
          "mark": {"type": "line", "strokeWidth": 2.2, "strokeJoin": "round", "clip": true},
          "encoding": {
            "x": {"field": "date", "type": "temporal",
              "scale": {"type": "utc", "domain": [{"year":2018,"month":8,"date":1,"utc":true},{"year":2019,"month":9,"date":28,"utc":true}]},
              "axis": null},
            "y": {"field": "t", "type": "quantitative", "scale": {"domain": [-5, 35], "range": [367, 0], "nice": false, "zero": false},
              "axis": {"orient": "left", "values": [-5,0,5,10,15,20,25,30,35], "title": null, "grid": false, "domainColor": "#b5b5b5", "domainWidth": 1.5, "tickColor": "#b5b5b5", "tickSize": 5, "labelFontSize": 8.5, "labelColor": "#555", "labelPadding": 3, "labelFlush": false}},
            "color": {"datum": "Temperature (average per day - °C)", "type": "nominal"}
          }
        },
        {
          "data": {"name": "ticks"},
          "transform": [{"filter": "datum.panel === 'B'"}],
          "mark": {"type": "text", "angle": -44, "align": "left", "baseline": "alphabetic", "font": "Liberation Sans", "fontSize": 11, "color": "#3c3c3c"},
          "encoding": {
            "x": {"field": "date", "type": "temporal"},
            "y": {"datum": 36.45, "type": "quantitative", "scale": {"domain": [-5, 35], "range": [367, 0], "nice": false, "zero": false}, "axis": null},
            "text": {"field": "lab"}
          }
        },
        {
          "data": {"values": [{}]},
          "mark": {"type": "rule", "color": "#b5b5b5", "strokeWidth": 1.5},
          "encoding": {"y": {"datum": 0, "type": "quantitative", "scale": {"domain": [-5, 35], "range": [367, 0], "nice": false, "zero": false}, "axis": null}}
        },
        {
          "data": {"name": "precip"},
          "mark": {"type": "line", "strokeWidth": 2.2, "strokeJoin": "round", "clip": true},
          "encoding": {
            "x": {"field": "date", "type": "temporal"},
            "y": {"field": "p", "type": "quantitative", "scale": {"domain": [0, 45], "range": [679, 397], "nice": false, "zero": false},
              "axis": {"orient": "left", "values": [0,5,10,15,20,25,30,35,40,45], "title": null, "grid": false, "domainColor": "#b5b5b5", "domainWidth": 1.5, "tickColor": "#b5b5b5", "tickSize": 5, "labelFontSize": 8.5, "labelColor": "#555", "labelPadding": 3, "labelFlush": false}},
            "color": {"datum": "Precipitation (Total precipiation per day - mm)", "type": "nominal"}
          }
        },
        {
          "data": {"values": [{}]},
          "mark": {"type": "rule", "color": "#b5b5b5", "strokeWidth": 1.5},
          "encoding": {"y": {"datum": 0, "type": "quantitative", "scale": {"domain": [0, 45], "range": [679, 397], "nice": false, "zero": false}, "axis": null}}
        },
        {
          "data": {"name": "periods"},
          "transform": [{"filter": "datum.panel === 'B'"}],
          "mark": {"type": "rule", "color": "#ff4040", "strokeWidth": 1.6, "strokeDash": [4, 3]},
          "encoding": {
            "x": {"field": "start", "type": "temporal"},
            "y": {"datum": 31.7, "type": "quantitative", "scale": {"domain": [-5, 35], "range": [367, 0], "nice": false, "zero": false}, "axis": null},
            "y2": {"datum": -39.0}
          }
        },
        {
          "data": {"name": "periods"},
          "transform": [{"filter": "datum.panel === 'B'"}],
          "mark": {"type": "rule", "color": "#ff4040", "strokeWidth": 1.6, "strokeDash": [4, 3]},
          "encoding": {
            "x": {"field": "end", "type": "temporal"},
            "y": {"datum": 31.7, "type": "quantitative", "scale": {"domain": [-5, 35], "range": [367, 0], "nice": false, "zero": false}, "axis": null},
            "y2": {"datum": -39.0}
          }
        },
        {
          "data": {"name": "periods"},
          "transform": [{"filter": "datum.panel === 'B'"}],
          "mark": {"type": "rule", "color": "#ff1a1a", "strokeWidth": 3},
          "encoding": {
            "x": {"field": "start", "type": "temporal"},
            "x2": {"field": "end"},
            "xOffset": {"value": 3},
            "x2Offset": {"value": -3},
            "y": {"datum": 32.0, "type": "quantitative", "scale": {"domain": [-5, 35], "range": [367, 0], "nice": false, "zero": false}, "axis": null}
          }
        },
        {
          "data": {"name": "periods"},
          "transform": [{"filter": "datum.panel === 'B'"}],
          "mark": {"type": "text", "font": "Liberation Serif", "fontWeight": "bold", "fontSize": 23, "color": "#ff1a1a", "align": "left", "baseline": "alphabetic", "dx": 5},
          "encoding": {
            "x": {"field": "start", "type": "temporal"},
            "y": {"datum": 32.8, "type": "quantitative", "scale": {"domain": [-5, 35], "range": [367, 0], "nice": false, "zero": false}, "axis": null},
            "text": {"field": "label"}
          }
        },
        {
          "data": {"values": [{}]},
          "mark": {"type": "text", "text": "B", "font": "DejaVu Sans", "fontWeight": "bold", "fontSize": 24, "color": "#111", "align": "left", "baseline": "alphabetic"},
          "encoding": {
            "x": {"datum": {"year":2018,"month":7,"date":17,"utc":true}, "type": "temporal"},
            "y": {"datum": 38.8, "type": "quantitative", "scale": {"domain": [-5, 35], "range": [367, 0], "nice": false, "zero": false}, "axis": null}
          }
        }
      ],
      "resolve": {"scale": {"y": "independent"}, "axis": {"y": "independent"}}
    }
  ]
}
